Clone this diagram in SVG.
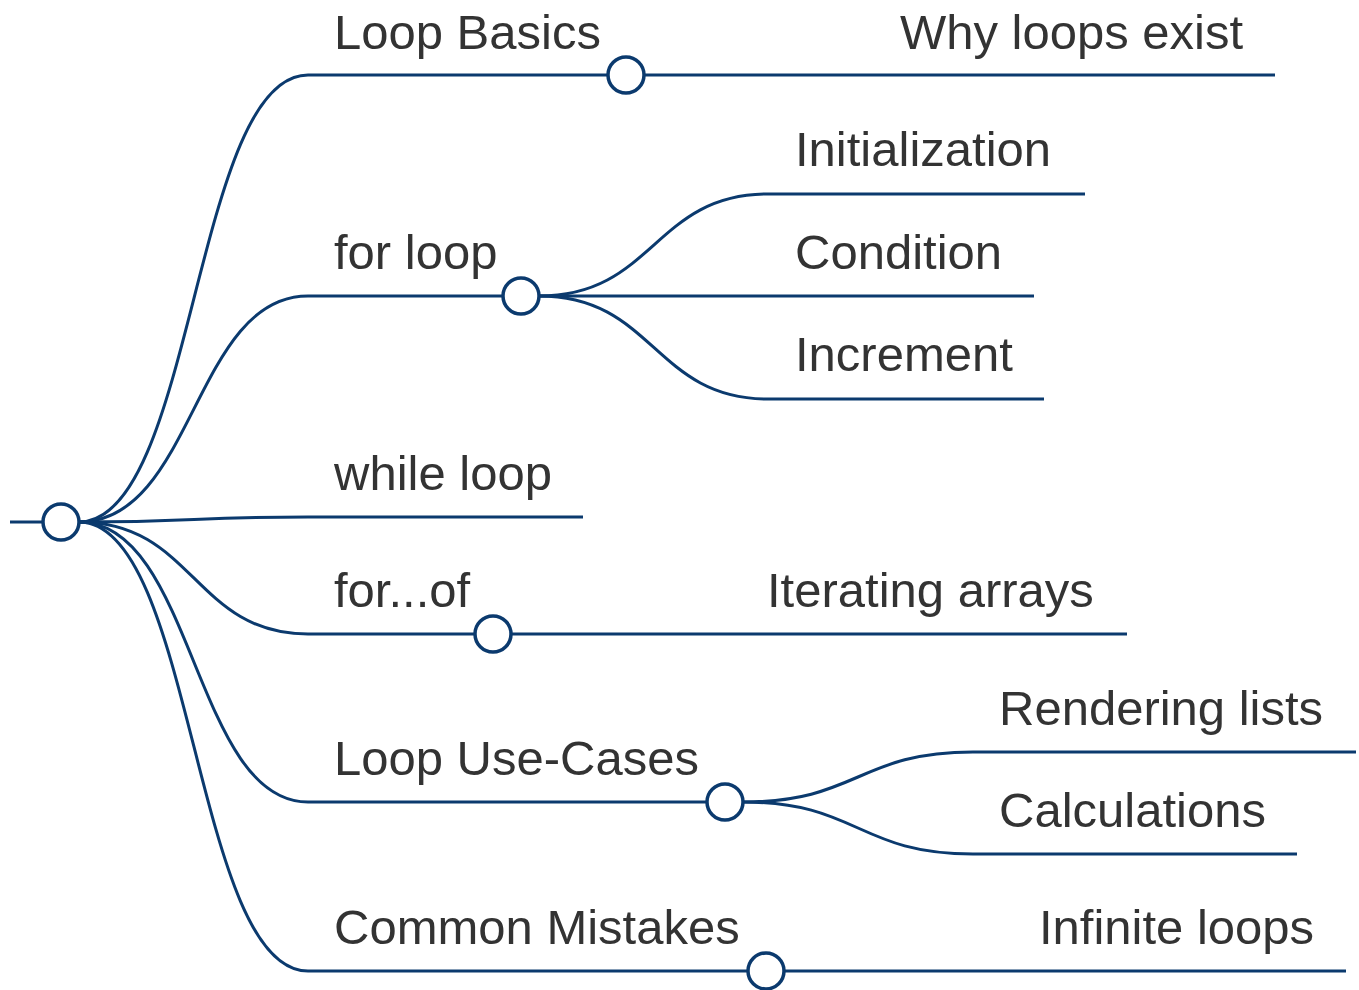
<svg xmlns="http://www.w3.org/2000/svg" width="1359" height="990" viewBox="0 0 1359 990">
<style>
.l{fill:none;stroke:#0b3a6e;stroke-width:3;stroke-linecap:butt}
.c{fill:#fff;stroke:#0b3a6e;stroke-width:3.5}
text{font-family:"Liberation Sans",Arial,sans-serif;font-size:49px;fill:#333}
</style>
<rect width="1359" height="990" fill="#fff"/>
<g id="connectors">
<path class="l" d="M10 522H43"/>
<path class="l" d="M79 522C194 522 194 75 308 75"/>
<path class="l" d="M79 522C194 522 194 296 308 296"/>
<path class="l" d="M79 522C194 522 194 517 308 517"/>
<path class="l" d="M79 522C194 522 194 634 308 634"/>
<path class="l" d="M79 522C194 522 194 802 308 802"/>
<path class="l" d="M79 522C194 522 194 971 308 971"/>
<path class="l" d="M644 75H874"/>
<path class="l" d="M539 296C654 296 654 194 768 194"/>
<path class="l" d="M539 296H768"/>
<path class="l" d="M539 296C654 296 654 399 768 399"/>
<path class="l" d="M511 634H741"/>
<path class="l" d="M743 802C858 802 858 752 973 752"/>
<path class="l" d="M743 802C858 802 858 854 973 854"/>
<path class="l" d="M784 971H1013"/>
</g>
<g id="root"><circle class="c" cx="61" cy="522" r="18"/></g>
<g id="loop-basics"><path class="l" d="M308 75H608"/><text x="334" y="49">Loop Basics</text><circle class="c" cx="626" cy="75" r="18"/></g>
<g id="why-loops-exist"><path class="l" d="M874 75H1275"/><text x="900" y="49">Why loops exist</text></g>
<g id="for-loop"><path class="l" d="M308 296H503"/><text x="334" y="269">for loop</text><circle class="c" cx="521" cy="296" r="18"/></g>
<g id="initialization"><path class="l" d="M768 194H1085"/><text x="795" y="166">Initialization</text></g>
<g id="condition"><path class="l" d="M768 296H1034"/><text x="795" y="269">Condition</text></g>
<g id="increment"><path class="l" d="M768 399H1044"/><text x="795" y="371">Increment</text></g>
<g id="while-loop"><path class="l" d="M308 517H583"/><text x="334" y="490">while loop</text></g>
<g id="for-of"><path class="l" d="M308 634H475"/><text x="334" y="607">for...of</text><circle class="c" cx="493" cy="634" r="18"/></g>
<g id="iterating-arrays"><path class="l" d="M741 634H1127"/><text x="767" y="607">Iterating arrays</text></g>
<g id="loop-use-cases"><path class="l" d="M308 802H707"/><text x="334" y="775">Loop Use-Cases</text><circle class="c" cx="725" cy="802" r="18"/></g>
<g id="rendering-lists"><path class="l" d="M973 752H1356"/><text x="999" y="725">Rendering lists</text></g>
<g id="calculations"><path class="l" d="M973 854H1297"/><text x="999" y="827">Calculations</text></g>
<g id="common-mistakes"><path class="l" d="M308 971H748"/><text x="334" y="944">Common Mistakes</text><circle class="c" cx="766" cy="971" r="18"/></g>
<g id="infinite-loops"><path class="l" d="M1013 971H1346"/><text x="1039" y="944">Infinite loops</text></g>
</svg>
